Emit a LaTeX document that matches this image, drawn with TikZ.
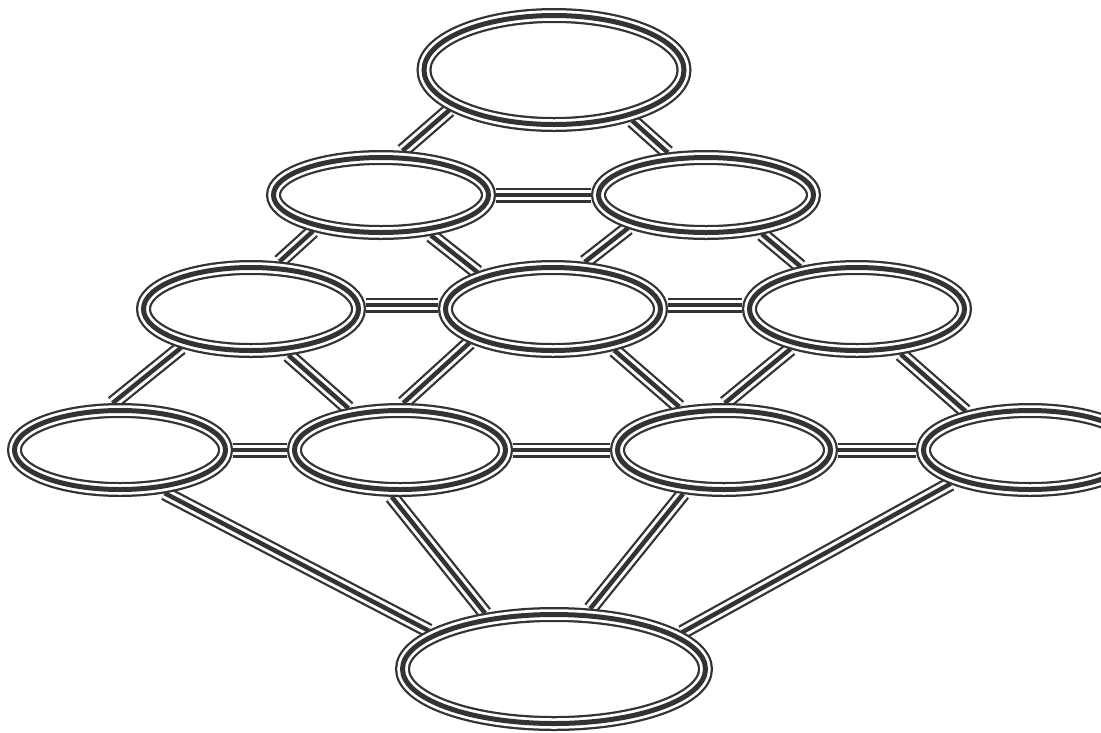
\documentclass[tikz,border=0pt]{standalone}
\usepackage{xcolor}
\usepackage{tikz}
\usetikzlibrary{shapes.geometric, positioning, backgrounds}

\definecolor{ink}{HTML}{333333}

\tikzset{
  ring/.style={ellipse, draw=ink, line width=15pt, fill=white, inner sep=0pt,
    minimum width=215pt, minimum height=81pt,
    postaction={draw=white, line width=10.5pt},
    postaction={draw=ink, line width=5pt}},
  link/.style={draw=ink, line width=15pt,
    postaction={draw=white, line width=10.5pt},
    postaction={draw=ink, line width=4.5pt}},
}

\begin{document}
\begin{tikzpicture}[on grid]
        \useasboundingbox (0pt,0pt) rectangle (1101pt,-732pt);

        \node[ring, minimum width=260pt, minimum height=109pt] (top) at (554pt,-70pt) {};
        \node[ring, minimum height=75pt] (l2a) [below left=125pt and 173pt of top] {};
        \node[ring, minimum height=75pt] (l2b) [right=325pt of l2a] {};
        \node[ring, minimum height=83pt] (l3a) [below left=114pt and 130pt of l2a] {};
        \node[ring, minimum height=83pt] (l3b) [right=302pt of l3a] {};
        \node[ring, minimum height=83pt] (l3c) [right=304pt of l3b] {};
        \node[ring, minimum width=211pt, minimum height=79pt] (l4a) [below left=141pt and 131pt of l3a] {};
        \node[ring, minimum width=211pt, minimum height=79pt] (l4b) [right=280pt of l4a] {};
        \node[ring, minimum width=213pt, minimum height=79pt] (l4c) [right=324pt of l4b] {};
        \node[ring, minimum width=213pt, minimum height=79pt] (l4d) [right=306pt of l4c] {};
        \node[ring, minimum width=303pt, minimum height=109pt] (bot) [below=599pt of top] {};

        \begin{scope}[on background layer]
        \path[every edge/.style={link}]
        (top.201) edge (l2a.64)
        (top.-33) edge (l2b.132)
        (l2a.0) edge (l2b.180)
        (l2a.208) edge (l3a.59)
        (l2a.-39) edge (l3b.154)
        (l2b.203) edge (l3b.56)
        (l2b.-35) edge (l3c.143)
        (l3a.2) edge (l3b.178)
        (l3b.2) edge (l3c.178)
        (l3a.209) edge (l4a.99)
        (l3a.-51) edge (l4b.141)
        (l3b.202) edge (l4b.86)
        (l3b.-34) edge (l4c.136)
        (l3c.211) edge (l4c.89)
        (l3c.-46) edge (l4d.149)
        (l4a.0) edge (l4b.180)
        (l4b.0) edge (l4c.180)
        (l4c.0) edge (l4d.180)
        (l4a.-44) edge (bot.163)
        (l4b.260) edge (bot.141)
        (l4c.227) edge (bot.59)
        (l4d.203) edge (bot.16);
        \end{scope}
\end{tikzpicture}
\end{document}
